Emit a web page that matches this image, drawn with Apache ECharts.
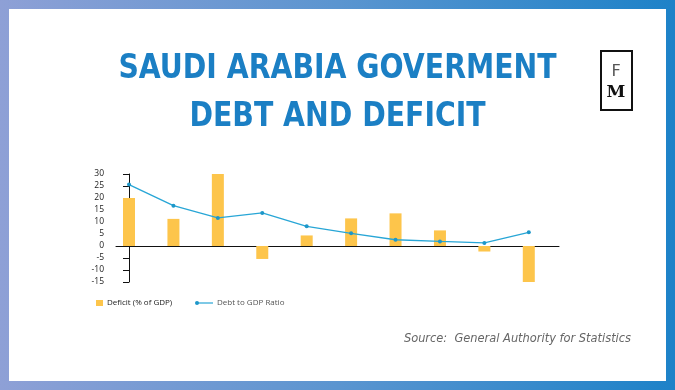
<!DOCTYPE html>
<html>
<head>
<meta charset="utf-8">
<script src="https://cdn.jsdelivr.net/npm/echarts@6/dist/echarts.min.js"></script>
<style>
html,body{margin:0;padding:0;background:#fff;}
#chart{width:675px;height:390px;}
</style>
</head>
<body>
<div id="chart"></div>
<script>
// Data
var years = ['2014','2015','2016','2017','2018','2019','2020','2021','2022','2023'];
var deficit = [20, 11.3, 30, -5.4, 4.4, 11.5, 13.6, 6.5, -2.3, -15];
var debtRatio = [25.6, 16.8, 11.7, 13.8, 8.2, 5.3, 2.6, 1.9, 1.3, 5.7];
var yTicks = [-15, -10, -5, 0, 5, 10, 15, 20, 25, 30];
var titleLines = ['SAUDI ARABIA GOVERMENT', 'DEBT AND DEFICIT'];
var legendNames = ['Deficit (% of GDP)', 'Debt to GDP Ratio'];
var sourceText = 'Source:  General Authority for Statistics';

var barColor = '#fdc54b';
var lineColor = '#28a6d6';
var titleColor = '#1b7fc4';

var chart = echarts.init(document.getElementById('chart'), null, {renderer: 'canvas'});

var barData = deficit.map(function (v, i) { return [i, v]; });
var lineData = debtRatio.map(function (v, i) { return [i, v]; });

var titleFont = "'DejaVu Sans Condensed', 'DejaVu Sans', sans-serif";

chart.setOption({
  animation: false,
  backgroundColor: 'transparent',
  grid: {left: 116, right: 116, top: 174, height: 108, containLabel: false},
  xAxis: {
    type: 'value',
    min: -0.293,
    max: 9.68,
    axisLine: {onZero: true, lineStyle: {color: '#111', width: 1}},
    axisTick: {show: false},
    axisLabel: {show: false},
    splitLine: {show: false}
  },
  yAxis: {
    type: 'value',
    min: yTicks[0],
    max: yTicks[yTicks.length - 1],
    interval: 5,
    axisLine: {show: true, lineStyle: {color: '#111', width: 1}},
    axisTick: {show: true, length: 6, lineStyle: {color: '#111'}},
    axisLabel: {color: '#222', fontSize: 8.5, margin: 12, fontFamily: "'Open Sans', sans-serif"},
    splitLine: {show: false}
  },
  series: [
    {
      name: legendNames[0],
      type: 'bar',
      data: barData,
      barWidth: 12,
      itemStyle: {color: barColor},
      z: 2
    },
    {
      name: legendNames[1],
      type: 'line',
      data: lineData,
      symbol: 'circle',
      symbolSize: 4,
      lineStyle: {color: lineColor, width: 1.3},
      itemStyle: {color: '#1d97c9'},
      z: 3
    }
  ],
  graphic: [
    {
      type: 'rect', z: -10, silent: true,
      shape: {x: 0, y: 0, width: 675, height: 390},
      style: {fill: new echarts.graphic.LinearGradient(0, 0, 1, 0, [
        {offset: 0, color: '#8ea0d6'},
        {offset: 0.5, color: '#5b95d0'},
        {offset: 1, color: '#1d82c8'}
      ])}
    },
    {
      type: 'rect', z: -9, silent: true,
      shape: {x: 9, y: 9, width: 657, height: 372},
      style: {fill: '#ffffff'}
    },
    {
      type: 'text', x: 337.5, y: 69, z: 10, scaleX: 0.9, scaleY: 0.98, originX: 0, originY: 0,
      style: {text: titleLines[0], fill: titleColor, font: "bold 35px " + titleFont, align: 'center', verticalAlign: 'middle'}
    },
    {
      type: 'text', x: 337.5, y: 117, z: 10, scaleX: 0.9, scaleY: 0.98, originX: 0, originY: 0,
      style: {text: titleLines[1], fill: titleColor, font: "bold 35px " + titleFont, align: 'center', verticalAlign: 'middle'}
    },
    // FM logo
    {
      type: 'rect', z: 10,
      shape: {x: 601, y: 51, width: 31, height: 59},
      style: {fill: 'none', stroke: '#111', lineWidth: 2}
    },
    {
      type: 'text', x: 616, y: 72, z: 10,
      style: {text: 'F', fill: '#555', font: "16px 'DejaVu Sans', sans-serif", align: 'center', verticalAlign: 'middle'}
    },
    {
      type: 'text', x: 616, y: 93, z: 10,
      style: {text: 'M', fill: '#111', font: "bold 17px 'DejaVu Serif', serif", align: 'center', verticalAlign: 'middle'}
    },
    // legend
    {
      type: 'rect', z: 10,
      shape: {x: 96, y: 300, width: 7, height: 6},
      style: {fill: barColor}
    },
    {
      type: 'text', x: 107, y: 303, z: 10,
      style: {text: legendNames[0], fill: '#222', font: "8px 'Open Sans', sans-serif", verticalAlign: 'middle'}
    },
    {
      type: 'line', z: 10,
      shape: {x1: 196, y1: 303, x2: 213, y2: 303},
      style: {stroke: lineColor, lineWidth: 1.2}
    },
    {
      type: 'circle', z: 11,
      shape: {cx: 197, cy: 303, r: 2},
      style: {fill: '#1d97c9'}
    },
    {
      type: 'text', x: 217, y: 303, z: 10,
      style: {text: legendNames[1], fill: '#555', font: "8px 'Open Sans', sans-serif", verticalAlign: 'middle'}
    },
    // source
    {
      type: 'text', x: 631, y: 339, z: 10,
      style: {text: sourceText, fill: '#666', font: "italic 12.7px 'DejaVu Sans Condensed', sans-serif", align: 'right', verticalAlign: 'middle'}
    }
  ]
});
</script>
</body>
</html>
